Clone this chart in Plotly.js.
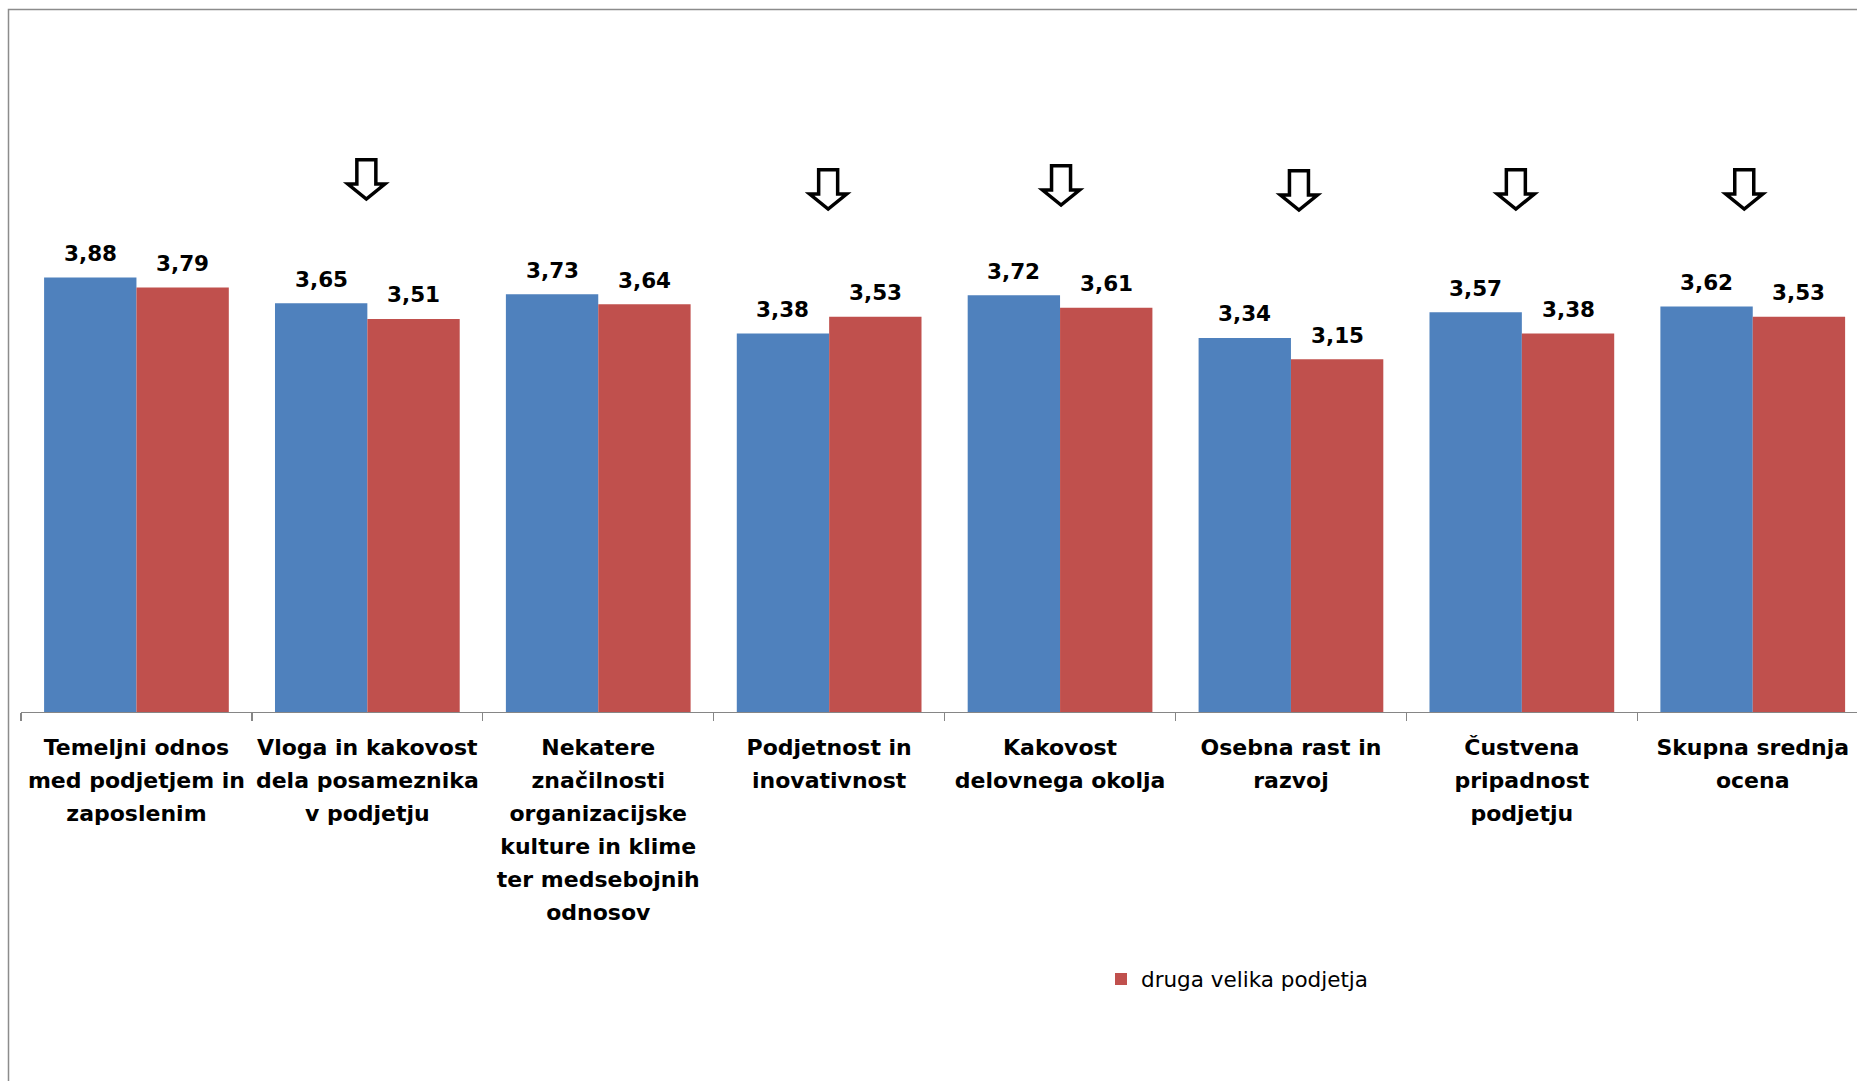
<!DOCTYPE html>
<html><head><meta charset="utf-8">
<script src="https://cdn.plot.ly/plotly-3.0.1.min.js"></script>
<style>html,body{margin:0;padding:0;background:#fff;overflow:hidden}#chart{width:1857px;height:1081px}</style>
</head><body><div id="chart"></div>
<script>
// ---- data ----
const categories = [
  'Temeljni odnos<br>med podjetjem in<br>zaposlenim',
  'Vloga in kakovost<br>dela posameznika<br>v podjetju',
  'Nekatere<br>značilnosti<br>organizacijske<br>kulture in klime<br>ter medsebojnih<br>odnosov',
  'Podjetnost in<br>inovativnost',
  'Kakovost<br>delovnega okolja',
  'Osebna rast in<br>razvoj',
  'Čustvena<br>pripadnost<br>podjetju',
  'Skupna srednja<br>ocena'
];
const blueName = 'podjetje';
const redName = 'druga velika podjetja';
const blueValues = [3.88, 3.65, 3.73, 3.38, 3.72, 3.34, 3.57, 3.62];
const redValues  = [3.79, 3.51, 3.64, 3.53, 3.61, 3.15, 3.38, 3.53];
const arrowCategories = [1, 3, 4, 5, 6, 7];

// ---- layout config ----
const W = 1857, H = 1081;
const M = {l: 21, r: 0, t: 40, b: 369};
const plotW = W - M.l - M.r, plotH = H - M.t - M.b;
const catPx = 230.9;
const bargap = 0.2;
const barHalf = (1 - bargap) / 4;
const fontFam = '"DejaVu Sans", Verdana, sans-serif';
const tickLineScale = 1.5 / 1.3;
// arrow placement (pixel offsets, rise above axis)
const arrowDx = [-1, -1, 1, 8, -6, -8.5];
const arrowRise = [554, 544, 548, 543, 544, 544];
const arrowPath = 'M-9.5,-1.75 L9.5,-1.75 L9.5,-26 L18.5,-26 L0,-41 L-18.5,-26 L-9.5,-26 Z';

const fmt = v => v.toFixed(2).replace('.', ',');

const traces = [
  {type: 'bar', name: blueName, x: categories, y: blueValues,
   marker: {color: '#4F81BD'}, showlegend: false, hoverinfo: 'skip'},
  {type: 'bar', name: redName, x: categories, y: redValues,
   marker: {color: '#C0504D'}, hoverinfo: 'skip'}
];

const labelFont = {family: fontFam, size: 21.5, color: '#000', weight: 'bold'};
const annotations = [];
blueValues.forEach((v, i) => annotations.push({x: i - barHalf, y: v, xref: 'x', yref: 'y', text: fmt(v),
  showarrow: false, yanchor: 'middle', yshift: 24, font: labelFont}));
redValues.forEach((v, i) => annotations.push({x: i + barHalf, y: v, xref: 'x', yref: 'y', text: fmt(v),
  showarrow: false, yanchor: 'middle', yshift: 24, font: labelFont}));

const shapes = arrowCategories.map((c, k) => ({
  type: 'path', xref: 'x', yref: 'paper', xsizemode: 'pixel', ysizemode: 'pixel',
  xanchor: c + arrowDx[k] / catPx, yanchor: arrowRise[k] / plotH,
  path: arrowPath, fillcolor: '#ffffff', line: {color: '#000000', width: 3.5}
}));
// outer chart border (left and top edges visible)
shapes.push({type: 'path', xref: 'paper', yref: 'paper',
  path: 'M' + ((8.5 - M.l) / plotW) + ',-0.7 L' + ((8.5 - M.l) / plotW) + ',' + ((plotH + M.t - 9.5) / plotH) +
        ' L1.02,' + ((plotH + M.t - 9.5) / plotH),
  line: {color: '#8c8c8c', width: 1.5}});

const layout = {
  width: W, height: H,
  margin: M,
  paper_bgcolor: '#ffffff', plot_bgcolor: '#ffffff',
  barmode: 'group', bargap: bargap, bargroupgap: 0,
  font: {family: fontFam, color: '#000'},
  xaxis: {
    type: 'category',
    range: [-0.5, -0.5 + plotW / catPx],
    showline: true, linecolor: '#868686', linewidth: 1.3,
    ticks: 'outside', tickson: 'boundaries', ticklen: 8, tickcolor: '#868686', tickwidth: 1.3,
    tickfont: {family: fontFam, size: 22, color: '#000', weight: 'bold'},
    ticklabelstandoff: 15,
    showgrid: false, zeroline: false, fixedrange: true, tickangle: 0
  },
  yaxis: {range: [0, 6], visible: false, fixedrange: true},
  showlegend: true,
  legend: {x: (1101 - M.l) / plotW, y: (M.t + plotH - 979) / plotH, xanchor: 'left', yanchor: 'middle',
           font: {family: fontFam, size: 21.5, color: '#000'}, bgcolor: 'rgba(0,0,0,0)'},
  annotations: annotations,
  shapes: shapes,
  hovermode: false
};

const gd = document.getElementById('chart');
function spaceTickLines() {
  gd.querySelectorAll('.xtick text tspan.line').forEach(t => {
    if (t.dataset.spaced) return;
    const dy = t.getAttribute('dy');
    const m = dy && dy.match(/^(-?[\d.]+)em$/);
    if (m && parseFloat(m[1]) !== 0) {
      t.setAttribute('dy', (parseFloat(m[1]) * tickLineScale).toFixed(4) + 'em');
    }
    t.dataset.spaced = '1';
  });
}
Plotly.newPlot(gd, traces, layout, {displayModeBar: false, staticPlot: true}).then(() => {
  spaceTickLines();
  gd.on('plotly_afterplot', spaceTickLines);
});
</script></body></html>
